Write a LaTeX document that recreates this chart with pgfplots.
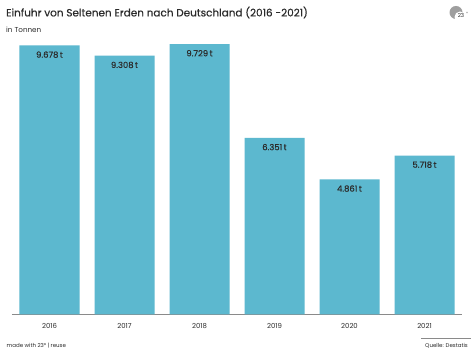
\documentclass[border=0pt]{standalone}
\usepackage{pgfplots}
\pgfplotsset{compat=1.18}
\usepackage{fontspec}
\setmainfont{Poppins}
\definecolor{barc}{HTML}{5CB8CF}
\definecolor{axc}{HTML}{8A8A8A}
\definecolor{txt}{HTML}{2B2B2B}
\begin{document}
\begin{tikzpicture}[x=1pt,y=1pt]
\path[use as bounding box,fill=white] (0,0) rectangle (474,355);
\begin{axis}[
  at={(12pt,40.5pt)},anchor=south west,
  scale only axis,width=450pt,height=278pt,
  xmin=-0.5,xmax=5.5,ymin=0,ymax=10000,
  axis y line=none,
  axis x line=bottom,
  axis line style={draw=axc,line width=1.5pt,-},
  xtick=data,xticklabels={2016,2017,2018,2019,2020,2021},
  xtick style={draw=none},
  tick label style={font=\fontsize{6.9}{8}\selectfont,text=txt},
  x tick label style={yshift=-1pt},
  /pgf/number format/assume math mode=true,
  clip=false,
  ybar,bar width=0.8,
  nodes near coords align={below},
  ]
\addplot[fill=barc,draw=none,
  point meta=explicit symbolic,
  nodes near coords,
  every node near coord/.append style={font=\fontsize{8.4}{9}\selectfont\addfontfeatures{FakeBold=0.4},text=txt,yshift=-2.5pt,anchor=north}]
  table[meta=l] {
  x y l
  0 9678 {9.678\,t}
  1 9308 {9.308\,t}
  2 9729 {9.729\,t}
  3 6351 {6.351\,t}
  4 4861 {4.861\,t}
  5 5718 {5.718\,t}
};
\end{axis}
\node[anchor=west,font=\fontsize{10.45}{13}\selectfont\addfontfeatures{FakeBold=0.5},text=txt,inner sep=0] at (6,342.5) {Einfuhr von Seltenen Erden nach Deutschland (2016 -2021)};
\node[anchor=west,font=\fontsize{7.2}{9}\selectfont,text=txt,inner sep=0] at (6,325.5) {in Tonnen};
\node[anchor=west,font=\fontsize{5.5}{7}\selectfont,text=txt,inner sep=0] at (6.5,9.5) {made with 23° | reuse};
\node[anchor=east,font=\fontsize{5.5}{7}\selectfont,text=txt,inner sep=0] at (468,9.5) {Quelle: Destatis};
\draw[axc,line width=0.9pt] (421,16.5) -- (471,16.5);
\fill[gray!75] (456,342.5) circle (6.5);
\fill[white] (460,338) circle (5.5);
\node[font=\fontsize{5.5}{6}\selectfont,text=txt,inner sep=0] at (461,339.5) {23};
\fill[gray!60] (467,342.5) circle (0.8);
\end{tikzpicture}
\end{document}
